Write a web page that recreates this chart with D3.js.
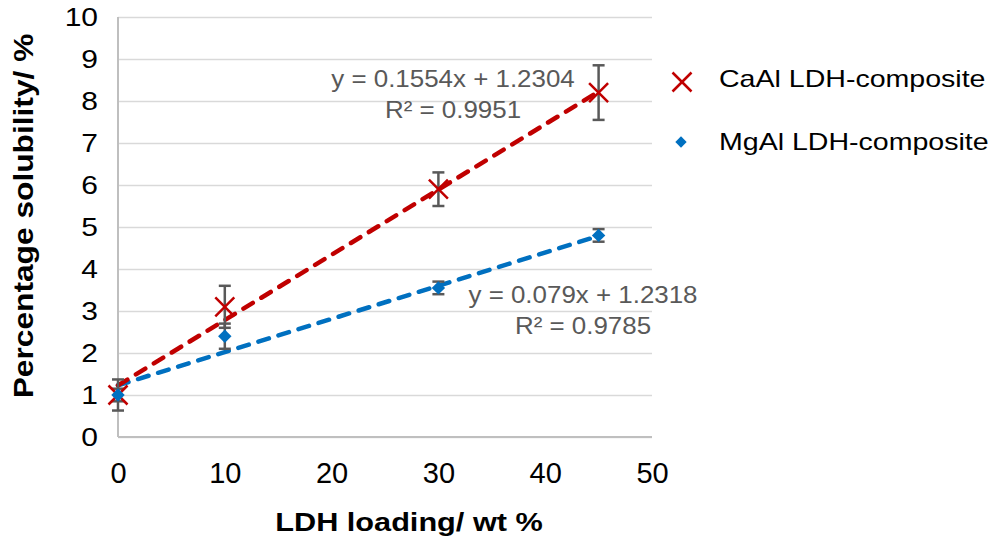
<!DOCTYPE html>
<html>
<head>
<meta charset="utf-8">
<script src="https://cdn.jsdelivr.net/npm/d3@7"></script>
<style>
  body { margin: 0; background: #fff; }
  svg { display: block; font-family: "Liberation Sans", Arial, sans-serif; }
</style>
</head>
<body>
<svg id="chart" width="992" height="542"></svg>
<script>
// data
const loading = [0, 10, 30, 45];
const caalSol = [1.0, 3.1, 5.9, 8.2];
const caalErr = [0.37, 0.5, 0.4, 0.65];
const mgalSol = [1.0, 2.4, 3.55, 4.8];
const mgalErr = [0.15, 0.3, 0.15, 0.15];
const caalFit = [0.1554, 1.2304];   // slope, intercept
const mgalFit = [0.079, 1.2318];
const caalEq = ['y = 0.1554x + 1.2304', 'R² = 0.9951'];
const mgalEq = ['y = 0.079x + 1.2318', 'R² = 0.9785'];
const seriesNames = ['CaAl LDH-composite', 'MgAl LDH-composite'];
const xTicks = [0, 10, 20, 30, 40, 50];
const yTicks = [0, 1, 2, 3, 4, 5, 6, 7, 8, 9, 10];

const red = '#C00000';
const blue = '#0070C0';
const grey = '#595959';

const svg = d3.select('#chart');
const x = d3.scaleLinear().domain([0, 50]).range([118, 652]);
const y = d3.scaleLinear().domain([0, 10]).range([437, 17]);

// the text in the picture is wider than Arial, so stretch it sideways
function stretch(sel, k) {
  sel.each(function () {
    const t = d3.select(this);
    const tx = +t.attr('x') || 0, ty = +t.attr('y') || 0;
    t.attr('x', 0).attr('y', 0).attr('transform', `translate(${tx},${ty}) scale(${k},1)`);
  });
}

// y axis + gridlines
const yAxis = svg.append('g')
  .attr('transform', `translate(${x(0)},0)`)
  .call(d3.axisLeft(y).tickValues(yTicks).tickSize(-(x(50) - x(0))).tickPadding(20));
yAxis.select('.domain').remove();
yAxis.selectAll('line').attr('stroke', '#d9d9d9').attr('stroke-width', 1.5);
yAxis.selectAll('text').attr('font-size', 25).attr('fill', '#000').attr('font-family', null);
stretch(yAxis.selectAll('text'), 1.2);

// x axis
const xAxis = svg.append('g')
  .attr('transform', `translate(0,${y(0)})`)
  .call(d3.axisBottom(x).tickValues(xTicks).tickSize(0).tickPadding(25));
xAxis.select('.domain').remove();
xAxis.selectAll('text').attr('font-size', 29).attr('fill', '#000').attr('font-family', null);

// axis lines
svg.append('line')
  .attr('x1', x(0)).attr('x2', x(50)).attr('y1', y(0)).attr('y2', y(0))
  .attr('stroke', '#bfbfbf').attr('stroke-width', 2);
svg.append('line')
  .attr('x1', x(0)).attr('x2', x(0)).attr('y1', y(0)).attr('y2', y(10))
  .attr('stroke', '#bfbfbf').attr('stroke-width', 2);

// trendlines
function trend(fit, color) {
  const xs = [loading[0], loading[loading.length - 1]];
  svg.append('path')
    .attr('d', d3.line()(xs.map(v => [x(v), y(fit[0] * v + fit[1])])))
    .attr('fill', 'none')
    .attr('stroke', color)
    .attr('stroke-width', 4.5)
    .attr('stroke-linecap', 'round')
    .attr('stroke-dasharray', '11,10');
}
trend(mgalFit, blue);
trend(caalFit, red);

// error bars
function errorBars(vals, errs) {
  const g = svg.append('g').attr('stroke', grey).attr('stroke-width', 2.5);
  loading.forEach((v, i) => {
    const top = y(vals[i] + errs[i]);
    const bot = y(vals[i] - errs[i]);
    g.append('line').attr('x1', x(v)).attr('x2', x(v)).attr('y1', top).attr('y2', bot);
    g.append('line').attr('x1', x(v) - 6).attr('x2', x(v) + 6).attr('y1', top).attr('y2', top);
    g.append('line').attr('x1', x(v) - 6).attr('x2', x(v) + 6).attr('y1', bot).attr('y2', bot);
  });
}
errorBars(caalSol, caalErr);
errorBars(mgalSol, mgalErr);

// markers
const cross = d3.symbol().type(d3.symbolTimes).size(237);
const diamond = d3.symbol().type(d3.symbolSquare).size(90);

svg.append('g').selectAll('path')
  .data(loading.map((v, i) => [v, caalSol[i]]))
  .join('path')
  .attr('d', cross)
  .attr('transform', d => `translate(${x(d[0])},${y(d[1])})`)
  .attr('fill', 'none')
  .attr('stroke', red)
  .attr('stroke-width', 2.5);

svg.append('g').selectAll('path')
  .data(loading.map((v, i) => [v, mgalSol[i]]))
  .join('path')
  .attr('d', diamond)
  .attr('transform', d => `translate(${x(d[0])},${y(d[1])}) rotate(45)`)
  .attr('fill', blue);

// trendline equations
function equation(lines, cx, baselines) {
  const t = svg.append('g').selectAll('text')
    .data(lines)
    .join('text')
    .attr('x', cx)
    .attr('y', (d, i) => baselines[i])
    .attr('text-anchor', 'middle')
    .attr('font-size', 24)
    .attr('fill', grey)
    .text(d => d);
  stretch(t, 1.08);
}
equation(caalEq, 453, [87, 118]);
equation(mgalEq, 583, [303, 334]);

// legend
const legend = svg.append('g');
legend.append('path')
  .attr('d', cross)
  .attr('transform', 'translate(682,82)')
  .attr('fill', 'none').attr('stroke', red).attr('stroke-width', 2.5);
legend.append('path')
  .attr('d', d3.symbol().type(d3.symbolSquare).size(64))
  .attr('transform', 'translate(681,142) rotate(45)')
  .attr('fill', blue);
const legText = legend.selectAll('text')
  .data(seriesNames)
  .join('text')
  .attr('x', 719)
  .attr('y', (d, i) => [87, 150][i])
  .attr('font-size', 24)
  .attr('fill', '#000')
  .text(d => d);
stretch(legText, 1.19);

// axis titles
const xTitle = svg.append('text')
  .attr('x', 409).attr('y', 531)
  .attr('text-anchor', 'middle')
  .attr('font-size', 26)
  .attr('font-weight', 'bold')
  .text('LDH loading/ wt %');
stretch(xTitle, 1.18);

svg.append('text')
  .attr('transform', 'translate(33,216) rotate(-90) scale(1.175,1)')
  .attr('text-anchor', 'middle')
  .attr('font-size', 27)
  .attr('font-weight', 'bold')
  .text('Percentage solubility/ %');
</script>
</body>
</html>
